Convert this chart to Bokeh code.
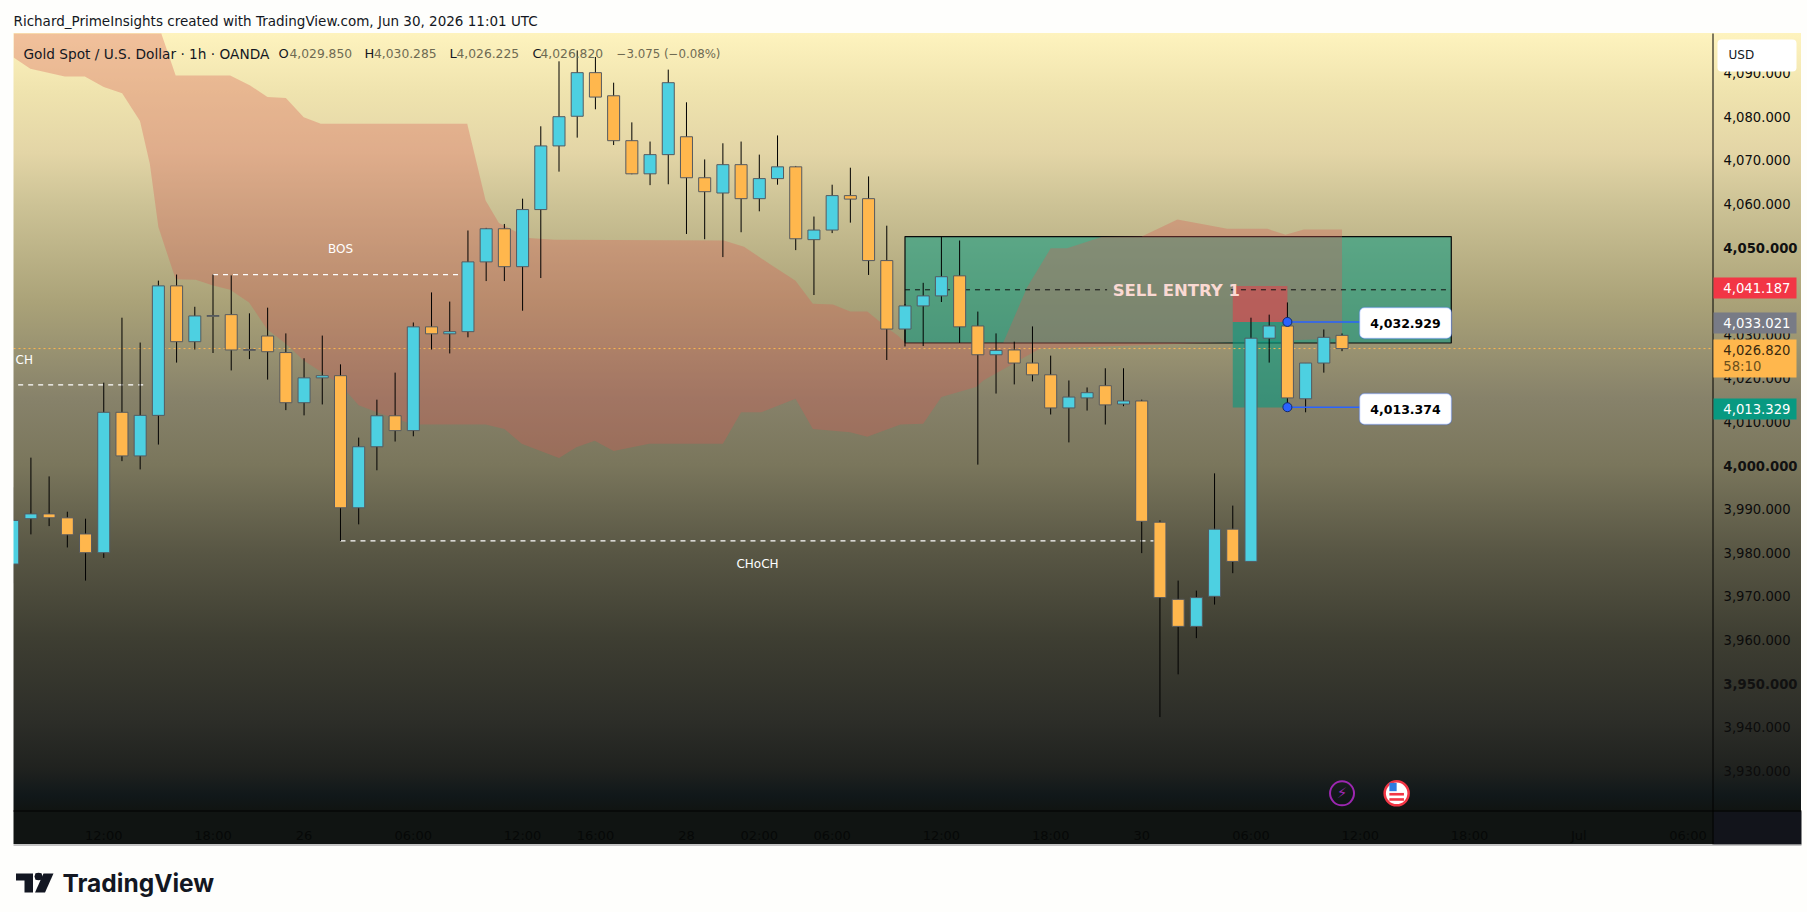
from bokeh.plotting import figure
from bokeh.models import (Label, BoxAnnotation, PolyAnnotation, FixedTicker,
                          NumeralTickFormatter)
from bokeh.core.properties import value
from bokeh.embed import file_html
from bokeh.resources import INLINE

# ---------- data ----------
opens = [3977.4,3987.8,3988.9,3988.0,3984.3,3980.0,4012.2,4002.2,4011.5,4041.2,4028.4,4034.4,4034.6,4026.6,4029.7,4025.9,4014.4,4020.1,4020.6,3990.3,
         4004.3,4011.4,4008.0,4031.8,4030.2,4030.7,4046.7,4054.3,4045.6,4058.7,4073.3,4080.1,4090.1,4084.8,4074.5,4066.9,4071.3,4075.4,4066.0,4062.5,
         4069.0,4061.2,4065.8,4068.5,4051.8,4054.0,4061.9,4061.2,4047.0,4031.3,4036.6,4038.9,4043.5,4032.0,4025.4,4026.5,4023.5,4020.8,4013.2,4015.5,
         4018.3,4014.1,4014.8,3987.0,3969.3,3963.1,3970.0,3985.4,3978.0,4029.2,4032.0,4015.3,4023.5,4029.85]
highs = [3995.0,4001.8,3997.5,3989.4,3987.8,4019.0,4033.9,4028.2,4042.4,4043.8,4036.4,4043.8,4043.6,4034.9,4036.2,4030.3,4024.6,4029.8,4023.2,4006.4,
         4015.1,4021.3,4032.8,4039.7,4037.6,4053.9,4054.5,4055.4,4061.2,4077.8,4092.7,4095.2,4093.7,4087.8,4078.7,4074.3,4090.8,4083.3,4070.2,4073.9,
         4074.3,4071.3,4075.7,4068.7,4057.1,4064.4,4068.3,4066.3,4055.0,4037.0,4041.9,4052.4,4051.6,4035.3,4030.3,4028.4,4031.9,4025.2,4019.5,4017.9,
         4022.3,4022.3,4015.1,3987.4,3973.6,3971.3,3998.2,3990.8,4033.9,4034.6,4037.4,4023.5,4031.2,4030.285]
lows = [3973.0,3984.2,3986.1,3981.2,3973.6,3978.8,4001.0,3999.1,4004.8,4023.6,4026.6,4025.8,4021.8,4024.4,4019.7,4012.7,4011.5,4014.0,3982.7,3986.5,
        3998.9,4005.5,4006.7,4026.6,4025.7,4029.4,4042.3,4042.3,4035.5,4043.0,4067.4,4075.2,4081.7,4073.5,4066.8,4064.3,4064.5,4053.1,4051.9,4047.8,
        4053.5,4058.3,4064.4,4049.4,4039.1,4053.3,4055.7,4043.7,4024.2,4027.3,4027.4,4037.5,4028.1,4000.2,4016.5,4018.6,4019.3,4011.7,4005.3,4012.6,
        4009.4,4013.6,3979.9,3942.3,3952.1,3960.4,3968.1,3975.3,3978.0,4023.6,4012.5,4012.2,4021.3,4026.225]
closes = [3987.4,3988.9,3988.0,3984.1,3980.0,4012.2,4002.2,4011.5,4041.2,4028.4,4034.3,4034.2,4026.5,4026.4,4026.1,4014.4,4020.1,4020.6,3990.3,4004.3,
          4011.4,4008.0,4031.8,4030.2,4030.7,4046.7,4054.3,4045.6,4058.7,4073.3,4080.0,4090.1,4084.5,4074.5,4066.9,4071.3,4087.8,4066.0,4062.8,4069.0,
          4061.2,4065.8,4068.5,4052.0,4054.0,4061.9,4061.1,4047.0,4031.3,4036.6,4038.9,4043.3,4031.8,4025.4,4026.4,4023.5,4020.8,4013.2,4015.7,4016.7,
          4013.9,4014.8,3987.2,3969.7,3963.1,3969.7,3985.4,3978.0,4029.2,4032.0,4015.5,4023.5,4029.4,4026.82]
candle_x = list(range(len(opens)))

cloud_x = [0.05,8.16,8.95,11.94,13.04,13.99,15.0,15.98,16.92,24.96,25.97,26.7,28.33,29.75,39.05,40.16,41.57,42.99,43.94,45.04,45.99,46.93,48.2,48.6,49,54.4,
           55.7,57,57.9,59.8,62,63.96,66.7,68.9,69.9,70.9,73,73,65.4,56.4,53.3,52.9,51,50,48.75,46.93,45.99,43.94,42.99,41.1,40,39,34.95,33,31.96,30.95,30,
           27.95,27,25.97,21.97,20,19,17.96,15.98,15,13.96,12.98,11.94,11,10.05,8.95,8.79,8,7.53,6.99,6.01,5,3.96,2.86,0.97,0.05]
cloud_y = [4099.08,4099.08,4089.45,4089.45,4087.15,4084.5,4084.3,4079.9,4078.4,4078.4,4060.8,4055.6,4052.2,4051.8,4051.6,4050.2,4046.2,4042.4,4037.1,4036.9,4035.3,4035.3,4031,4029.8,4028.2,4028.2,
           4040.8,4049.8,4049.8,4052.4,4052.5,4056.4,4054.3,4054.3,4052.9,4054.1,4054.1,4029.1,4028.1,4026.8,4019.5,4018,4015.7,4009.6,4009.4,4006.6,4007.6,4008.4,4015.3,4012.2,4012.2,4005,4005,4003.3,4005.7,4004.2,4001.7,
           4005,4008.4,4009.4,4009.4,4012.2,4013.8,4018.7,4024.1,4027.9,4031.3,4037.4,4040.3,4041.3,4042.6,4042.7,4044.7,4054.7,4069.2,4079,4085.4,4086.8,4089.2,4089.2,4091,4093.6]

price_ticks = [3930,3940,3950,3960,3970,3980,3990,4000,4010,4020,4030,4040,4050,4060,4070,4080,4090]
bold_ticks = [3950,4000,4050]
time_ticks = [5,11,16,22,28,32,37,41,45,51,57,62,68,74,80,86,92]
time_labels = ["12:00","18:00","26","06:00","12:00","16:00","28","02:00","06:00","12:00","18:00","30","06:00","12:00","18:00","Jul","06:00"]

last_close = 4026.82
entry_top, entry_bottom, entry_line = 4052.5, 4028.1, 4040.3
entry_left, entry_right = 49, 79
entry_gap_left, entry_gap_right = 60.1, 66.9
stop_level, anchor_high, anchor_low = 4041.187, 4032.929, 4013.374
target_level = 4013.329
pos_left, pos_right = 67, 70
bos_level, choch_level, choch_left_level = 4043.8, 3982.7, 4018.5

FONT = "DejaVu Sans"
UP, DOWN, EDGE = "#4DD0E1", "#FFB74D", "#555A60"

# ---------- pixel helpers (layout only) ----------
def dx(px): return (px - 12.2) / 18.21
def dy(py): return 4000 + (465 - py) / 4.36
PX0, PX1, PY0, PY1 = 13, 1712, 33, 810

grad = ["#FEF3BE 0px", "#EFE3AE 60px", "#E3D5A6 120px", "#CDC396 170px", "#AAA278 270px",
        "#87826A 365px", "#7A765C 432px", "#585644 520px", "#3E3E32 605px", "#2C2D28 690px",
        "#20221F 735px", "#11181A 762px", "#101412 777px", "#101412 811px"]

p = figure(width=1807, height=912, x_range=(dx(0), dx(1807)), y_range=(dy(912), dy(0)),
           output_backend="svg", toolbar_location=None, tools="",
           x_axis_location="below", y_axis_location="right",
           min_border_left=0, min_border_right=0, min_border_top=0, min_border_bottom=0,
           background_fill_alpha=0, border_fill_alpha=0,
           styles={"background-color": "#FEFEFC",
                   "background-image": "linear-gradient(to bottom," + ",".join(grad) + ")",
                   "background-size": "1788px 811px",
                   "background-position": "13px 33px",
                   "background-repeat": "no-repeat"})
p.grid.visible = False
p.outline_line_color = None

# axes, pinned to the chart's edges
ay = p.yaxis[0]
ay.fixed_location = dx(PX1)
ay.ticker = FixedTicker(ticks=price_ticks)
ay.formatter = NumeralTickFormatter(format="0,0.000")
ay.major_label_overrides = {t: "" for t in bold_ticks}
ay.axis_line_color = None
ay.major_tick_line_color = None
ay.minor_tick_line_color = None
ay.major_label_text_font = FONT
ay.major_label_text_font_size = "13.2px"
ay.major_label_text_color = "#0c0c0c"
ay.major_label_standoff = 5

ax = p.xaxis[0]
ax.fixed_location = dy(PY1)
ax.ticker = FixedTicker(ticks=time_ticks)
ax.major_label_overrides = dict(zip(time_ticks, time_labels))
ax.axis_line_color = None
ax.major_tick_line_color = None
ax.minor_tick_line_color = None
ax.major_label_text_font = FONT
ax.major_label_text_font_size = "13px"
ax.major_label_text_color = "#060807"
ax.major_label_standoff = 11

# entry zone, cloud, position boxes
p.quad(left=[entry_left], right=[entry_right], top=[entry_top], bottom=[entry_bottom],
       fill_color="#089981", fill_alpha=0.55, line_color="#0a0a0a", line_width=1.2)
p.patch(cloud_x, cloud_y, fill_color="#D85A55", fill_alpha=0.33, line_color=None)
p.quad(left=[pos_left], right=[pos_right], top=[stop_level], bottom=[anchor_high],
       fill_color="#F23645", fill_alpha=0.5, line_color=None)
p.quad(left=[pos_left], right=[pos_right], top=[anchor_high], bottom=[target_level],
       fill_color="#089981", fill_alpha=0.6, line_color=None)

# level lines
p.segment([dx(PX0)], [last_close], [dx(PX1)], [last_close], line_color=DOWN, line_dash="2 3", line_width=1)
p.segment([entry_left, entry_gap_right], [entry_line, entry_line], [entry_gap_left, entry_right], [entry_line, entry_line],
          line_color="#111111", line_dash="5 5", line_width=1)
p.segment([11, 18, 0.3], [bos_level, choch_level, choch_left_level], [24.7, 62.7, 7.4],
          [bos_level, choch_level, choch_left_level], line_color="#FFFFFF", line_dash="5 5", line_width=1.2)

# candles
p.segment(candle_x, lows, candle_x, highs, line_color="#000000", line_width=1)
body_top = [max(o, c) for o, c in zip(opens, closes)]
body_bot = [min(o, c) for o, c in zip(opens, closes)]
colors = [UP if c >= o else DOWN for o, c in zip(opens, closes)]
p.vbar(x=candle_x, width=0.66, top=body_top, bottom=body_bot, fill_color=colors, line_color=EDGE, line_width=1)

# chart texts
p.text([18, 40.9], [4049.6, 3977.3], text=["BOS", "CHoCH"],
       text_color="#FFFFFF", text_font=value(FONT), text_font_size="12px",
       text_align="center", text_baseline="middle")
# the reference's left label is cut by the chart's edge: only its end shows
p.text([dx(15)], [4024.3], text=["CH"],
       text_color="#FFFFFF", text_font=value(FONT), text_font_size="12px",
       text_align="left", text_baseline="middle")
p.text([63.9], [4040.2], text=["SELL ENTRY 1"], text_color="#FAD9D3", text_font=value(FONT),
       text_font_size="16.5px", text_font_style="bold", text_align="center", text_baseline="middle")

# anchors
p.segment([70, 70], [anchor_high, anchor_low], [74, 74], [anchor_high, anchor_low],
          line_color="#2962FF", line_width=1.5)
p.scatter([70, 70], [anchor_high, anchor_low], size=9, fill_color="#2962FF", line_color="#132a6b")

# event icons
p.scatter([73], [3924.8], size=24, fill_color=None, line_color="#9C27B0", line_width=2)
p.text([73], [3924.8], text=["\u26A1"], text_color="#9C27B0", text_font=value("DejaVu Sans"),
       text_font_size="15px", text_align="center", text_baseline="middle")
p.scatter([76], [3924.8], size=24, fill_color="#FFFFFF", line_color="#F23645", line_width=2.5)
p.quad(left=[75.6, 75.6], right=[76.4, 76.4], top=[3924.9, 3923.7],
       bottom=[3924.3, 3923.1], fill_color="#F23645", line_color=None)
p.quad(left=[75.6], right=[76.0], top=[3927.2], bottom=[3925.3], fill_color="#2F7BE0", line_color=None)

def box(l, r, t, b, color, radius=0, line=None, lw=0, alpha=1.0):
    p.add_layout(BoxAnnotation(left=dx(l), right=dx(r), top=dy(t), bottom=dy(b),
                               fill_color=color, fill_alpha=alpha, line_color=line, line_width=lw,
                               border_radius=radius, level="overlay", editable=False))

def lab(px, py, text, color="#131722", size=13, style="normal", align="left", font=FONT):
    p.add_layout(Label(x=dx(px), y=dy(py), text=text, text_color=color, text_font=font,
                       text_font_size=f"{size}px", text_font_style=style,
                       text_align=align, text_baseline="middle", level="overlay"))

# white page margin that cuts the left-most candle at the chart's edge
box(0, PX0, 0, 912, "#FEFEFC")

# chart frame lines and the corner below the price scale
box(1713, 1801, 811, 844, "#12141B")
box(PX1, PX1 + 1, PY0, 844, "#000000")
box(PX0, 1801, PY1, PY1 + 1, "#000000")
box(PX0, 1801, 844, 845, "#8A8A8C")

# bold price labels
for t in bold_ticks:
    lab(1722.8, 465 - (t - 4000) * 4.36, f"{t:,.3f}", color="#111111", size=13.2, style="bold")

# right-hand tags
box(1717, 1796, 39, 71, "#FFFFFF", radius=4)
lab(1728, 54.5, "USD", size=12)
box(1713, 1796, 277, 298, "#F23645")
lab(1722.8, 287.5, "4,041.187", color="#FFFFFF", size=13.2)
box(1713, 1796, 312, 333, "#787B86")
lab(1722.8, 322.5, "4,033.021", color="#FFFFFF", size=13.2)
box(1713, 1796, 339, 377, DOWN)
lab(1722.8, 349, "4,026.820", color="#3a2a10", size=13.2)
lab(1722.8, 366, "58:10", color="#6b4f1c", size=13.2)
box(1713, 1796, 398, 419, "#089981")
lab(1722.8, 408.5, "4,013.329", color="#FFFFFF", size=13.2)

# callouts
box(1359, 1451, 307, 338, "#FFFFFF", radius=5, line="#2962FF", lw=1.5)
lab(1405, 322.5, "4,032.929", color="#000000", size=12.5, style="bold", align="center")
box(1359, 1451, 393, 424, "#FFFFFF", radius=5, line="#2962FF", lw=1.5)
lab(1405, 408.5, "4,013.374", color="#000000", size=12.5, style="bold", align="center")

# header
lab(13, 20, "Richard_PrimeInsights created with TradingView.com, Jun 30, 2026 11:01 UTC", size=13.5)
lab(23, 53, "Gold Spot / U.S. Dollar \u00b7 1h \u00b7 OANDA", size=13.7)
VAL = "#6E6A52"
lab(278, 53, "O", size=13); lab(289, 53, "4,029.850", color=VAL, size=12.3)
lab(364, 53, "H", size=13); lab(373.5, 53, "4,030.285", color=VAL, size=12.3)
lab(449, 53, "L", size=13); lab(456, 53, "4,026.225", color=VAL, size=12.3)
lab(532, 53, "C", size=13); lab(540, 53, "4,026.820", color=VAL, size=12.3)
lab(616, 53, "\u22123.075 (\u22120.08%)", color=VAL, size=11.8)

# logo
def poly(xs, ys, color="#131722"):
    p.add_layout(PolyAnnotation(xs=[dx(v) for v in xs], ys=[dy(v) for v in ys],
                                fill_color=color, fill_alpha=1, line_color=None,
                                level="overlay", editable=False))
poly([15.5, 32.5, 32.5, 24, 24, 15.5], [873, 873, 892, 892, 880, 880])
poly([35, 38, 41, 42, 41, 38, 35, 34], [872.8, 872.3, 872.8, 876, 879.2, 879.7, 879.2, 876])
poly([43, 53, 44.5, 34.5], [873, 873, 892, 892])
lab(62, 882.5, "TradingView", color="#131722", size=24.5, style="bold", font="Inter")

open("out.html", "w").write(file_html(p, INLINE))
